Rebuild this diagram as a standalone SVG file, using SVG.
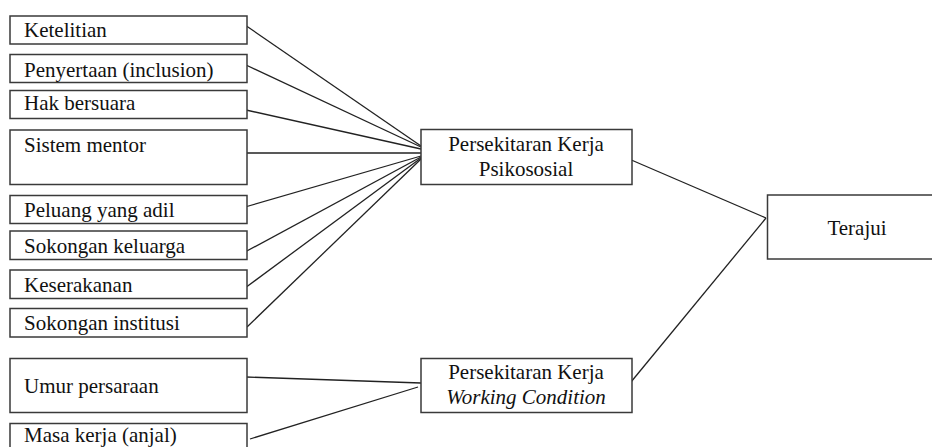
<svg xmlns="http://www.w3.org/2000/svg" width="932" height="447" viewBox="0 0 932 447">
<style>
.box{fill:#fff;stroke:#3a3a3a;stroke-width:1.5}
.t{font-family:"Liberation Serif","Times New Roman",serif;font-size:21px;fill:#111}
.c{text-anchor:middle}
.i{font-style:italic}
.ln{stroke:#222;stroke-width:1.3;fill:none}
</style>
<rect width="932" height="447" fill="#fff"/>
<g id="connectors">
<line class="ln" x1="245" y1="25" x2="421" y2="146"/>
<line class="ln" x1="246" y1="65" x2="421" y2="147"/>
<line class="ln" x1="246" y1="110" x2="421" y2="149"/>
<line class="ln" x1="245" y1="153" x2="421" y2="153"/>
<line class="ln" x1="245" y1="207" x2="421" y2="156"/>
<line class="ln" x1="245" y1="252" x2="421" y2="157"/>
<line class="ln" x1="245" y1="288" x2="421" y2="158"/>
<line class="ln" x1="247" y1="327" x2="421" y2="159"/>
<line class="ln" x1="246" y1="377" x2="421" y2="383"/>
<line class="ln" x1="250" y1="439" x2="418" y2="387"/>
<line class="ln" x1="629" y1="159" x2="766" y2="218"/>
<line class="ln" x1="631" y1="382" x2="766" y2="218"/>
</g>
<g id="n1"><rect class="box" x="10" y="16" width="237" height="28"/><text class="t" x="24" y="37">Ketelitian</text></g>
<g id="n2"><rect class="box" x="10" y="54.5" width="237" height="28"/><text class="t" x="24" y="76.5">Penyertaan (inclusion)</text></g>
<g id="n3"><rect class="box" x="10" y="90.5" width="237" height="28"/><text class="t" x="24" y="110">Hak bersuara</text></g>
<g id="n4"><rect class="box" x="10" y="130" width="237" height="54.5"/><text class="t" x="24" y="151.5">Sistem mentor</text></g>
<g id="n5"><rect class="box" x="10" y="195.5" width="237" height="28"/><text class="t" x="24" y="216.5">Peluang yang adil</text></g>
<g id="n6"><rect class="box" x="10" y="231" width="237" height="28.5"/><text class="t" x="24" y="253">Sokongan keluarga</text></g>
<g id="n7"><rect class="box" x="10" y="270" width="237" height="28.5"/><text class="t" x="24" y="291.5">Keserakanan</text></g>
<g id="n8"><rect class="box" x="10" y="308.5" width="237" height="28.5"/><text class="t" x="24" y="330">Sokongan institusi</text></g>
<g id="n9"><rect class="box" x="10" y="358.5" width="237" height="54"/><text class="t" x="24" y="392.5">Umur persaraan</text></g>
<g id="n10"><rect class="box" x="10" y="423.5" width="237" height="30"/><text class="t" x="24" y="441.5">Masa kerja (anjal)</text></g>
<g id="psikososial"><rect class="box" x="421" y="129.5" width="211" height="55"/><text class="t c" x="526" y="151">Persekitaran Kerja</text><text class="t c" x="526" y="175.5">Psikososial</text></g>
<g id="working"><rect class="box" x="421" y="358.5" width="211" height="54"/><text class="t c" x="526" y="378.5">Persekitaran Kerja</text><text class="t c i" x="526" y="403.5">Working Condition</text></g>
<g id="terajui"><rect class="box" x="767.5" y="195" width="170" height="64"/><text class="t c" x="857" y="234.5">Terajui</text></g>
</svg>
